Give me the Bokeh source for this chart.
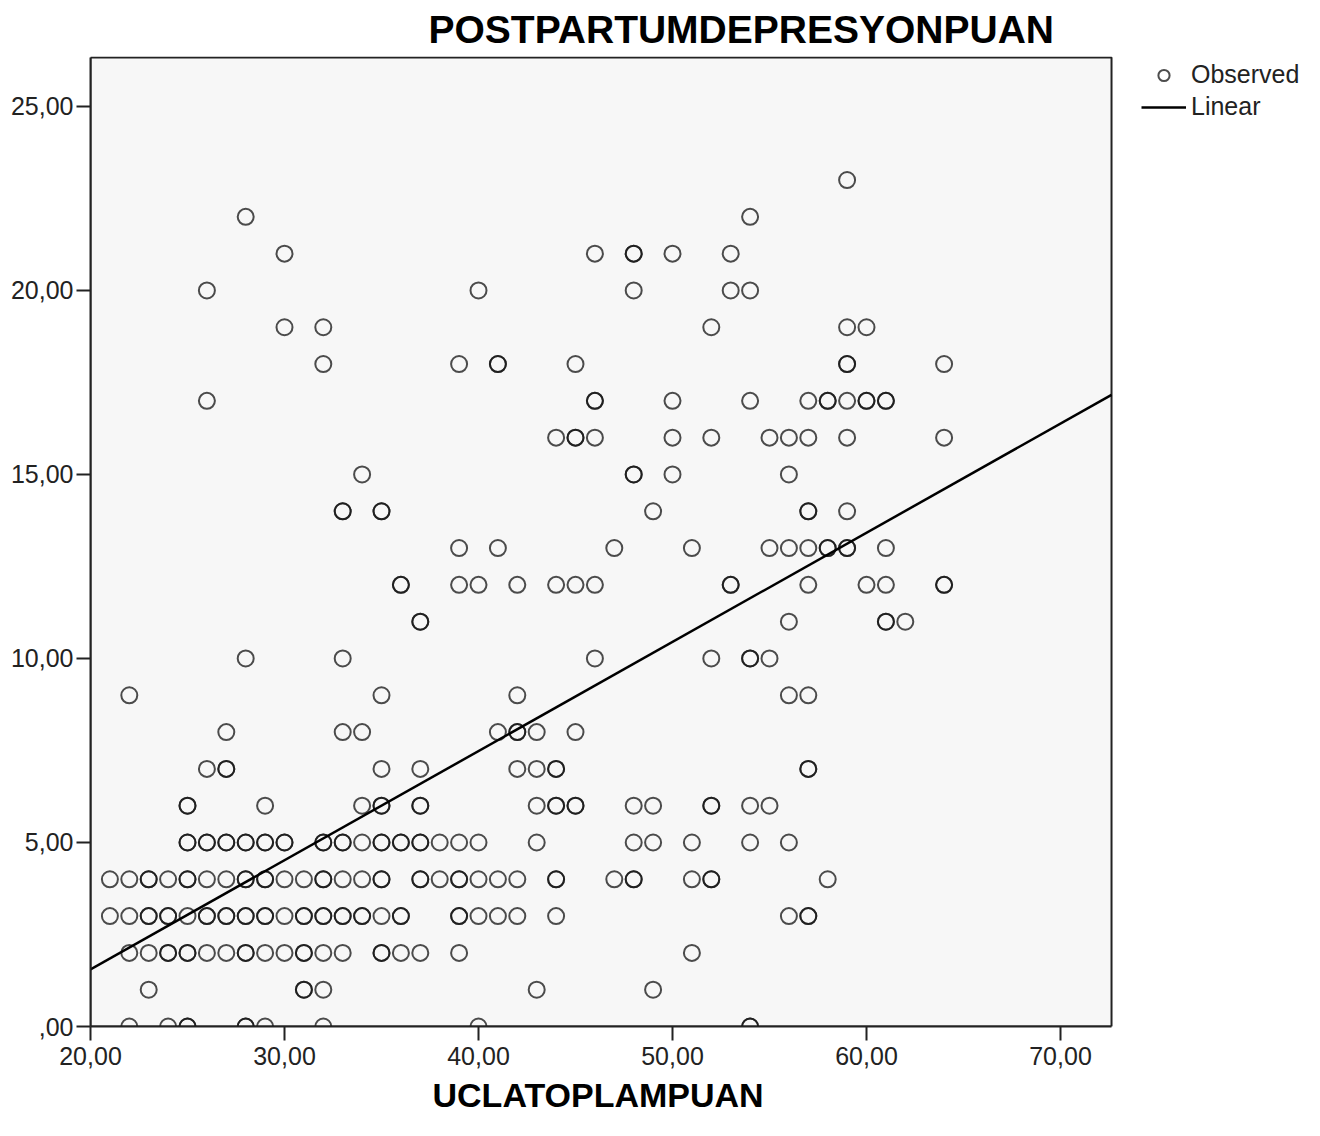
from bokeh.plotting import figure
from bokeh.models import Range1d, FixedTicker, Legend, LegendItem, BoxAnnotation, Title
from bokeh.embed import file_html
from bokeh.resources import INLINE

# ---- data: UCLA total score (x) observed at each postpartum-depression score (y) ----
# repeated values mark overlapping (darker) circles
ucla_at_0 = [22, 24, 25, 25, 28, 28, 29, 32, 40, 54, 54]
ucla_at_1 = [23, 31, 31, 32, 43, 49]
ucla_at_2 = [22, 23, 24, 24, 25, 25, 26, 27, 28, 28, 29, 30, 31, 31, 32, 33, 35, 35, 36, 37, 39, 51]
ucla_at_3 = [21, 22, 23, 23, 24, 24, 25, 26, 26, 27, 27, 28, 28, 29, 29, 30, 31, 31, 32, 32,
             33, 33, 34, 34, 35, 36, 36, 39, 39, 40, 41, 42, 44, 56, 57, 57]
ucla_at_4 = [21, 22, 23, 23, 24, 25, 25, 26, 27, 28, 28, 29, 29, 30, 31, 32, 32, 33, 34, 35, 35,
             37, 37, 38, 39, 39, 40, 41, 42, 44, 44, 47, 48, 48, 51, 52, 52, 58]
ucla_at_5 = [25, 25, 26, 26, 27, 27, 28, 28, 29, 29, 30, 30, 32, 32, 33, 33, 34, 35, 35, 36, 36,
             37, 37, 38, 39, 40, 43, 48, 49, 51, 54, 56]
ucla_at_6 = [25, 25, 29, 34, 35, 35, 37, 37, 43, 44, 44, 45, 45, 48, 49, 52, 52, 54, 55]
ucla_at_7 = [26, 27, 27, 35, 37, 42, 43, 44, 44, 57, 57]
ucla_at_8 = [27, 33, 34, 41, 42, 42, 43, 45]
ucla_at_9 = [22, 35, 42, 56, 57]
ucla_at_10 = [28, 33, 46, 52, 54, 54, 55]
ucla_at_11 = [37, 37, 56, 61, 61, 62]
ucla_at_12 = [36, 36, 39, 40, 42, 44, 45, 46, 53, 53, 57, 60, 61, 64, 64]
ucla_at_13 = [39, 41, 47, 51, 55, 56, 57, 58, 58, 59, 59, 61]
ucla_at_14 = [33, 33, 35, 35, 49, 57, 57, 59]
ucla_at_15 = [34, 48, 48, 50, 56]
ucla_at_16 = [44, 45, 45, 46, 50, 52, 55, 56, 57, 59, 64]
ucla_at_17 = [26, 46, 46, 50, 54, 57, 58, 58, 59, 60, 60, 61, 61]
ucla_at_18 = [32, 39, 41, 41, 45, 59, 59, 64]
ucla_at_19 = [30, 32, 52, 59, 60]
ucla_at_20 = [26, 40, 48, 53, 54]
ucla_at_21 = [30, 46, 48, 48, 50, 53]
ucla_at_22 = [28, 54]
ucla_at_23 = [59]

depression_levels = list(range(24))
ucla_rows = [ucla_at_0, ucla_at_1, ucla_at_2, ucla_at_3, ucla_at_4, ucla_at_5, ucla_at_6,
             ucla_at_7, ucla_at_8, ucla_at_9, ucla_at_10, ucla_at_11, ucla_at_12, ucla_at_13,
             ucla_at_14, ucla_at_15, ucla_at_16, ucla_at_17, ucla_at_18, ucla_at_19,
             ucla_at_20, ucla_at_21, ucla_at_22, ucla_at_23]

# linear fit
fit_intercept = -4.38
fit_slope = 0.2966

x_ticks = [20, 30, 40, 50, 60, 70]
x_tick_labels = ["20,00", "30,00", "40,00", "50,00", "60,00", "70,00"]
y_ticks = [0, 5, 10, 15, 20, 25]
y_tick_labels = [",00", "5,00", "10,00", "15,00", "20,00", "25,00"]

title_text = "POSTPARTUMDEPRESYONPUAN"
x_title = "UCLATOPLAMPUAN"

# ---- build ----
obs_x, obs_y = [], []
for lvl, row in zip(depression_levels, ucla_rows):
    for v in row:
        obs_x.append(v)
        obs_y.append(lvl)

X0, X1 = 20, 72.63          # plotted data area
Y0, Y1 = 0, 26.33
PX_PER_X = 19.40
FONT = "Liberation Sans"

W, H = 1304, 1120
LEFT, TOP, BOTTOM = 90, 56, 94
x_view_end = X0 + (W - LEFT) / PX_PER_X       # room on the right for the legend
y_view_end = Y1 + 1.0 / 36.8

p = figure(width=W, height=H, x_range=Range1d(X0, x_view_end), y_range=Range1d(Y0, y_view_end),
           output_backend="svg", toolbar_location=None,
           min_border_left=LEFT, min_border_right=0, min_border_top=TOP, min_border_bottom=BOTTOM,
           background_fill_color="white", border_fill_color="white")

p.title.text = title_text
p.title.align = "left"
p.title.offset = 338
p.title.text_font = FONT
p.title.text_font_size = "39px"
p.title.text_font_style = "bold"
p.title.text_color = "black"
p.title.standoff = 11

p.outline_line_color = None
p.grid.visible = False

# plot area (light grey box with dark border)
p.add_layout(BoxAnnotation(left=X0, right=X1, bottom=Y0, top=Y1,
                           fill_color="#f7f7f7", fill_alpha=1.0,
                           line_color="#222222", line_alpha=1.0, line_width=2,
                           level="underlay"))

for ax in (p.xaxis, p.yaxis):
    ax.axis_line_color = "#222222"
    ax.axis_line_width = 2
    ax.major_tick_line_color = "#222222"
    ax.major_tick_line_width = 2
    ax.major_tick_out = 14
    ax.major_tick_in = 0
    ax.minor_tick_line_color = None
    ax.major_label_text_font = FONT
    ax.major_label_text_font_size = "25px"
    ax.major_label_text_color = "#222222"

p.xaxis.bounds = (X0, X1)
p.yaxis.bounds = (Y0, Y1)
p.xaxis.ticker = FixedTicker(ticks=x_ticks)
p.xaxis.major_label_overrides = {t: s for t, s in zip(x_ticks, x_tick_labels)}
p.yaxis.ticker = FixedTicker(ticks=y_ticks)
p.yaxis.major_label_overrides = {t: s for t, s in zip(y_ticks, y_tick_labels)}
p.xaxis.major_label_standoff = 6
p.yaxis.major_label_standoff = 3

p.add_layout(Title(text=x_title, align="left", offset=342, text_font=FONT,
                   text_font_size="34px", text_font_style="bold", text_color="black",
                   standoff=12), "below")

sc = p.scatter(obs_x, obs_y, marker="circle", size=16, fill_color=None,
               line_color="#111111", line_alpha=0.75, line_width=2)

ln = p.line([X0, X1], [fit_intercept + fit_slope * X0, fit_intercept + fit_slope * X1],
            line_color="black", line_width=2.5)

legend = Legend(items=[LegendItem(label="Observed", renderers=[sc]),
                       LegendItem(label="Linear", renderers=[ln])],
                location=(1051, 905), orientation="vertical",
                padding=0, margin=0, spacing=3,
                glyph_width=45, glyph_height=28, label_height=28, label_standoff=5,
                label_text_font=FONT, label_text_font_size="25px", label_text_color="#222222",
                border_line_color=None, background_fill_alpha=0)
p.add_layout(legend)

open("out.html", "w").write(file_html(p, INLINE))
